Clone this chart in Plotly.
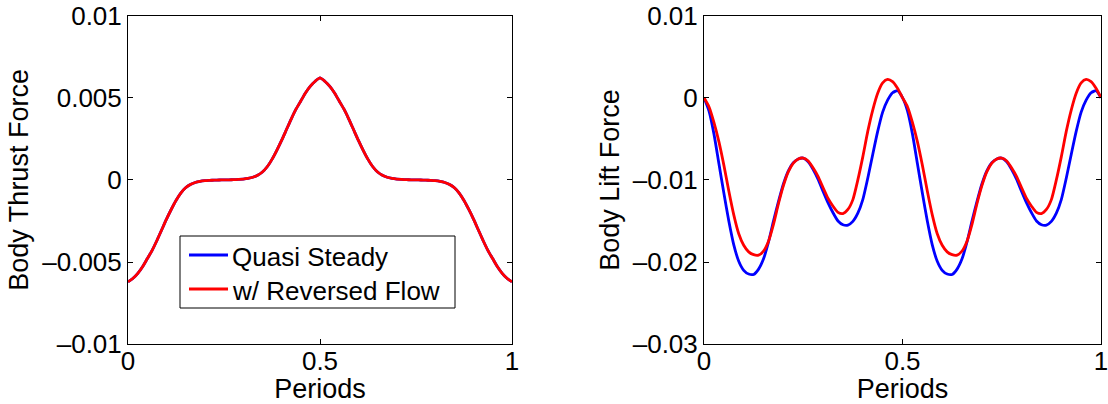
import numpy as np
import plotly.graph_objects as go

# Sample times over one flapping period (uniform grid, 0.0125 step)
periods = np.round(np.linspace(0.0, 1.0, 81), 4)

# Body thrust force, in units of 1e-3 (both models coincide)
thrust_quasi_steady = [
    -6.2, -6.0, -5.7, -5.3, -4.8, -4.3, -3.7, -3.05, -2.4, -1.8, -1.25,
    -0.8, -0.48, -0.28, -0.16, -0.09, -0.05, -0.03, -0.015, -0.005, 0.0,
    0.005, 0.015, 0.03, 0.05, 0.09, 0.16, 0.28, 0.48, 0.8, 1.25,
    1.8, 2.4, 3.05, 3.7, 4.3, 4.8, 5.3, 5.7, 6.0, 6.2,
    6.0, 5.7, 5.3, 4.8, 4.3, 3.7, 3.05, 2.4, 1.8, 1.25,
    0.8, 0.48, 0.28, 0.16, 0.09, 0.05, 0.03, 0.015, 0.005, 0.0,
    -0.005, -0.015, -0.03, -0.05, -0.09, -0.16, -0.28, -0.48, -0.8, -1.25,
    -1.8, -2.4, -3.05, -3.7, -4.3, -4.8, -5.3, -5.7, -6.0, -6.2,
]
thrust_reversed_flow = [
    -6.2, -6.0, -5.7, -5.3, -4.8, -4.3, -3.7, -3.05, -2.4, -1.8, -1.25,
    -0.8, -0.48, -0.28, -0.16, -0.09, -0.05, -0.03, -0.015, -0.005, 0.0,
    0.005, 0.015, 0.03, 0.05, 0.09, 0.16, 0.28, 0.48, 0.8, 1.25,
    1.8, 2.4, 3.05, 3.7, 4.3, 4.8, 5.3, 5.7, 6.0, 6.2,
    6.0, 5.7, 5.3, 4.8, 4.3, 3.7, 3.05, 2.4, 1.8, 1.25,
    0.8, 0.48, 0.28, 0.16, 0.09, 0.05, 0.03, 0.015, 0.005, 0.0,
    -0.005, -0.015, -0.03, -0.05, -0.09, -0.16, -0.28, -0.48, -0.8, -1.25,
    -1.8, -2.4, -3.05, -3.7, -4.3, -4.8, -5.3, -5.7, -6.0, -6.2,
]

# Body lift force, in units of 1e-3
lift_quasi_steady = [
    0.0, -1.6, -4.4, -8.0, -11.6, -15.0, -17.9, -19.9, -21.0, -21.45, -21.5,
    -20.85, -19.6, -17.55, -15.0, -12.65, -10.5, -8.9, -7.9, -7.45, -7.35,
    -7.8, -8.75, -9.95, -11.4, -12.8, -14.0, -15.0, -15.45, -15.5, -15.05,
    -14.05, -12.4, -9.8, -6.9, -4.1, -1.75, -0.3, 0.6, 0.85, 0.0,
    -1.6, -4.4, -8.0, -11.6, -15.0, -17.9, -19.9, -21.0, -21.45, -21.5,
    -20.85, -19.6, -17.55, -15.0, -12.65, -10.5, -8.9, -7.9, -7.45, -7.35,
    -7.8, -8.75, -9.95, -11.4, -12.8, -14.0, -15.0, -15.45, -15.5, -15.05,
    -14.05, -12.4, -9.8, -6.9, -4.1, -1.75, -0.3, 0.6, 0.85, 0.0,
]
lift_reversed_flow = [
    0.0, -1.1, -3.0, -5.35, -8.2, -11.35, -14.25, -16.55, -17.95, -18.75, -19.1,
    -19.15, -18.65, -17.45, -15.4, -12.9, -10.7, -9.0, -7.95, -7.45, -7.35,
    -7.7, -8.55, -9.6, -10.95, -12.25, -13.2, -13.95, -14.1, -13.6, -12.4,
    -10.0, -7.2, -4.1, -1.5, 0.55, 1.8, 2.22, 1.95, 1.15, 0.0,
    -1.1, -3.0, -5.35, -8.2, -11.35, -14.25, -16.55, -17.95, -18.75, -19.1,
    -19.15, -18.65, -17.45, -15.4, -12.9, -10.7, -9.0, -7.95, -7.45, -7.35,
    -7.7, -8.55, -9.6, -10.95, -12.25, -13.2, -13.95, -14.1, -13.6, -12.4,
    -10.0, -7.2, -4.1, -1.5, 0.55, 1.8, 2.22, 1.95, 1.15, 0.0,
]

series_names = ["Quasi Steady", "w/ Reversed Flow"]
series_colors = ["#0000ff", "#ff0000"]

x_ticks = [0, 0.5, 1]
x_tick_labels = ["0", "0.5", "1"]
thrust_ticks = [-0.01, -0.005, 0, 0.005, 0.01]
thrust_tick_labels = ["\u20130.01", "\u20130.005", "0", "0.005", "0.01"]
lift_ticks = [-0.03, -0.02, -0.01, 0, 0.01]
lift_tick_labels = ["\u20130.03", "\u20130.02", "\u20130.01", "0", "0.01"]

SCALE = 1e-3
FONT = "Liberation Sans, Arial, Helvetica, sans-serif"
LW = 2.8
W, H = 1108, 404

fig = go.Figure()

for vals, name, color in zip([thrust_quasi_steady, thrust_reversed_flow],
                             series_names, series_colors):
    fig.add_trace(go.Scatter(
        x=periods, y=np.array(vals) * SCALE, mode="lines", name=name,
        line=dict(color=color, width=LW, shape="spline", smoothing=0.6),
        showlegend=False, xaxis="x", yaxis="y"))

for vals, name, color in zip([lift_quasi_steady, lift_reversed_flow],
                             series_names, series_colors):
    fig.add_trace(go.Scatter(
        x=periods, y=np.array(vals) * SCALE, mode="lines", name=name,
        line=dict(color=color, width=LW, shape="spline", smoothing=0.6),
        showlegend=False, xaxis="x2", yaxis="y2"))

axis_common = dict(
    showline=True, linecolor="black", linewidth=1, mirror="ticks",
    ticks="inside", ticklen=5, tickcolor="black", tickwidth=1,
    showgrid=False, zeroline=False, automargin=False,
    ticklabeloverflow="allow",
    tickfont=dict(family=FONT, size=26, color="black"),
)
title_font = dict(family=FONT, size=27, color="black")
legend_font = dict(family=FONT, size=26, color="black")

y_dom = [(H - 344.3) / H, (H - 15.5) / H]


def px_x(px):
    return px / W


def px_y(py):
    return (H - py) / H


# Legend box drawn in the thrust panel
shapes = [dict(type="rect", xref="paper", yref="paper",
               x0=px_x(180), x1=px_x(455), y0=px_y(308), y1=px_y(236),
               line=dict(color="black", width=1), fillcolor="white", layer="above")]
annotations = []
for i, (name, color) in enumerate(zip(series_names, series_colors)):
    yc = 255 + 34 * i
    shapes.append(dict(type="line", xref="paper", yref="paper",
                       x0=px_x(189), x1=px_x(228), y0=px_y(yc), y1=px_y(yc),
                       line=dict(color=color, width=LW), layer="above"))
    annotations.append(dict(text=name, xref="paper", yref="paper",
                            x=px_x(230), y=px_y(yc + 2), xanchor="left",
                            yanchor="middle", showarrow=False, font=legend_font))

fig.update_layout(
    width=W, height=H,
    margin=dict(l=0, r=0, t=0, b=0, autoexpand=False),
    paper_bgcolor="white", plot_bgcolor="white",
    font=dict(family=FONT, size=26, color="black"),
    xaxis=dict(domain=[128 / W, 512 / W], range=[0, 1], anchor="y",
               tickvals=x_ticks, ticktext=x_tick_labels,
               title=dict(text="Periods", standoff=12, font=title_font),
               **axis_common),
    yaxis=dict(domain=y_dom, range=[-0.01, 0.01], anchor="x",
               tickvals=thrust_ticks, ticktext=thrust_tick_labels,
               title=dict(text="Body Thrust Force", standoff=5, font=title_font),
               **axis_common),
    xaxis2=dict(domain=[704 / W, 1101 / W], range=[0, 1], anchor="y2",
                tickvals=x_ticks, ticktext=x_tick_labels,
                title=dict(text="Periods", standoff=12, font=title_font),
                **axis_common),
    yaxis2=dict(domain=y_dom, range=[-0.03, 0.01], anchor="x2",
                tickvals=lift_ticks, ticktext=lift_tick_labels,
                title=dict(text="Body Lift Force", standoff=5, font=title_font),
                **axis_common),
    shapes=shapes,
    annotations=annotations,
    showlegend=False,
)

# Pull the x tick labels a little closer to the axis line
try:
    fig.update_xaxes(ticklabelstandoff=-7)
except (ValueError, TypeError):
    pass

fig.write_html("out.html")
